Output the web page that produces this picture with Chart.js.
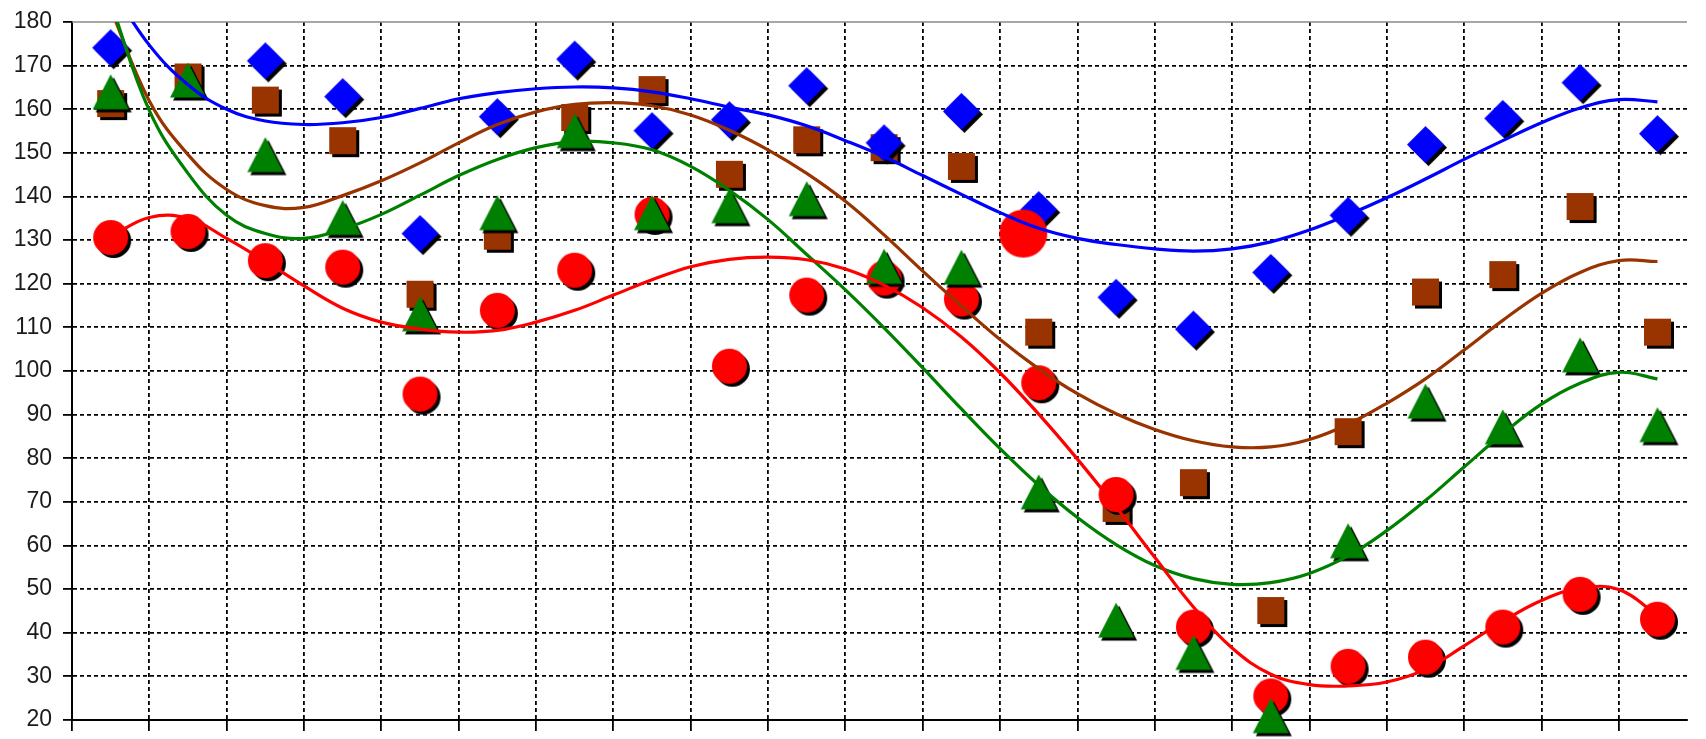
<!DOCTYPE html>
<html>
<head>
<meta charset="utf-8">
<script src="https://cdn.jsdelivr.net/npm/chart.js@4.4.0/dist/chart.umd.min.js"></script>
<style>
  html, body { margin: 0; padding: 0; background: #fff; overflow: hidden; }
  #wrap { width: 1706px; height: 739px; position: relative; }
</style>
</head>
<body>
<div id="wrap"><canvas id="c"></canvas></div>
<script>
// ---- data ----
const categories = [0, 1, 2, 3, 4, 5, 6, 7, 8, 9, 10, 11, 12, 13, 14, 15, 16, 17, 18, 19, 20];
const yTicks = [20, 30, 40, 50, 60, 70, 80, 90, 100, 110, 120, 130, 140, 150, 160, 170, 180];

const blueValues  = [174.1, null, 171.1, 162.9, 131.5, 158.3, 171.5, 155.1, 157.6, 165.4, 152.3, 159.5, 137.0, 116.9, 109.6, 122.6, 135.7, 151.9, 157.9, 166.1, 154.4];
const brownValues = [161.3, 167.4, 162.1, 152.8, 117.6, 130.9, 158.1, 164.5, 145.1, 153.0, 151.2, 146.9, 108.9, 68.5, 74.4, 45.1, 86.1, 118.1, 122.1, 137.7, 108.9];
const greenValues = [164.0, 166.7, 149.6, 135.2, 113.1, 136.3, 155.1, 136.3, 137.9, 139.5, 124.0, 123.8, 72.3, 42.9, 35.5, 21.0, 61.1, 93.1, 87.2, 103.7, 87.7];
const redValues   = [130.6, 132.0, 125.3, 123.8, 94.7, 113.9, 123.1, 135.9, 101.1, 117.4, 121.3, 116.5, 97.3, 71.7, 41.3, 25.5, 32.3, 34.4, 41.3, 48.8, 43.1];

const highlightX = [11.8];
const highlightValues = [131.5];

// trend lines at half-category steps
const trendX = [0, 0.5, 1, 1.5, 2, 2.5, 3, 3.5, 4, 4.5, 5, 5.5, 6, 6.5, 7, 7.5, 8, 8.5, 9, 9.5, 10,
                10.5, 11, 11.5, 12, 12.5, 13, 13.5, 14, 14.5, 15, 15.5, 16, 16.5, 17, 17.5, 18, 18.5, 19, 19.5, 20];
const blueTrend  = [188, 174.7, 165.6, 160.0, 157.3, 156.5, 156.9, 158.1, 160.2, 162.4, 163.8, 164.7, 165.1, 164.9, 164.0, 162.4, 160.5, 158.7, 156.2, 152.8, 149.1,
                    144.8, 140.5, 136.3, 132.7, 130.4, 129.0, 128.0, 127.5, 128.0, 129.6, 132.3, 135.8, 139.7, 144.0, 148.5, 152.8, 156.9, 160.3, 162.2, 161.7];
const brownTrend = [183, 161.9, 149.6, 141.6, 137.9, 137.5, 140.2, 143.6, 147.7, 152.3, 156.5, 159.4, 161.1, 161.5, 160.8, 158.7, 155.2, 150.7, 145.3, 138.9, 131.2,
                    122.9, 114.9, 107.2, 100.5, 94.8, 90.2, 86.6, 84.0, 82.6, 82.6, 84.3, 87.8, 92.6, 98.2, 104.8, 111.6, 117.8, 122.6, 125.3, 125.1];
const greenTrend = [184.5, 159.7, 145.3, 135.7, 131.5, 130.4, 132.5, 135.9, 140.3, 144.8, 148.5, 151.2, 152.6, 152.3, 150.7, 146.9, 141.4, 134.7, 126.7, 118.6, 109.9,
                    100.7, 91.3, 82.2, 73.8, 66.4, 60.2, 55.4, 52.4, 51.1, 51.5, 53.6, 57.6, 63.4, 70.3, 78.0, 85.6, 92.4, 97.2, 99.7, 98.2];
const redTrend   = [130.8, 135.2, 135.0, 130.4, 125.1, 119.5, 114.4, 111.2, 109.6, 108.9, 109.3, 111.2, 113.9, 117.4, 120.9, 123.9, 125.6, 126.1, 125.5, 123.4, 119.7,
                    114.5, 107.8, 99.6, 90.1, 79.8, 68.8, 57.3, 45.9, 36.5, 30.5, 28.1, 27.8, 28.7, 31.6, 37.0, 42.6, 47.4, 50.2, 49.9, 44.0];

// ---- helpers ----
function pts(xs, ys) {
  const out = [];
  xs.forEach((x, i) => { if (ys[i] !== null && ys[i] !== undefined) out.push({ x: x, y: ys[i] }); });
  return out;
}

function makeMarker(kind, color, w, h, shadow) {
  const off = shadow ? 3 : 0;
  const pad = 2;
  const S = Math.ceil(Math.max(w, h) + 2 * off + 2 * pad);
  const cv = document.createElement('canvas');
  cv.width = S; cv.height = S;
  const g = cv.getContext('2d');
  const c = S / 2;
  const path = (cx, cy) => {
    const hw = w / 2, hh = h / 2;
    g.beginPath();
    if (kind === 'diamond') {
      g.moveTo(cx, cy - hh); g.lineTo(cx + hw, cy); g.lineTo(cx, cy + hh); g.lineTo(cx - hw, cy);
    } else if (kind === 'square') {
      g.rect(cx - hw, cy - hh, w, h);
    } else if (kind === 'triangle') {
      g.moveTo(cx, cy - hh); g.lineTo(cx + hw, cy + hh); g.lineTo(cx - hw, cy + hh);
    } else {
      g.ellipse(cx, cy, hw, hh, 0, 0, Math.PI * 2);
    }
    g.closePath();
  };
  if (off) { path(c + off, c + off); g.fillStyle = '#000'; g.fill(); }
  path(c, c); g.fillStyle = color; g.fill();
  return cv;
}

const BLUE = '#0000FF', BROWN = '#993300', GREEN = '#008000', RED = '#FF0000';

const diamondImg  = makeMarker('diamond', BLUE, 37, 37, true);
const squareImg   = makeMarker('square', BROWN, 27, 27, true);
const triangleImg = makeMarker('triangle', GREEN, 36, 35, true);
const circleImg   = makeMarker('circle', RED, 35, 35, true);
const bigCircleImg = makeMarker('circle', RED, 48, 48, false);

function markerSet(label, data, img, order) {
  return {
    label, data, order,
    showLine: false,
    pointStyle: img,
    pointRadius: 18,
    pointHoverRadius: 18,
    clip: false
  };
}
function trendSet(label, data, color, order) {
  return {
    label, data, order,
    showLine: true,
    borderColor: color,
    backgroundColor: color,
    borderWidth: 3.2,
    pointRadius: 0,
    pointHoverRadius: 0,
    tension: 0.4,
    fill: false,
    clip: 0
  };
}

const framePlugin = {
  id: 'frame',
  beforeDraw(chart) {
    const { ctx, width, height } = chart;
    ctx.save(); ctx.fillStyle = '#fff'; ctx.fillRect(0, 0, width, height); ctx.restore();
  },
  beforeDatasetsDraw(chart) {
    const { ctx, chartArea: a } = chart;
    ctx.save();
    ctx.strokeStyle = '#8a8a8a';
    ctx.lineWidth = 1.5;
    ctx.beginPath(); ctx.moveTo(a.left, a.top); ctx.lineTo(a.right, a.top); ctx.stroke();
    ctx.restore();
  }
};

new Chart(document.getElementById('c'), {
  type: 'scatter',
  data: {
    datasets: [
      trendSet('Blue trend', pts(trendX, blueTrend), BLUE, 0),
      trendSet('Red trend', pts(trendX, redTrend), RED, 1),
      trendSet('Green trend', pts(trendX, greenTrend), GREEN, 2),
      trendSet('Brown trend', pts(trendX, brownTrend), BROWN, 3),
      markerSet('Highlight', pts(highlightX, highlightValues), bigCircleImg, 4),
      markerSet('Green', pts(categories, greenValues), triangleImg, 5),
      markerSet('Red', pts(categories, redValues), circleImg, 6),
      markerSet('Blue', pts(categories, blueValues), diamondImg, 7),
      markerSet('Brown', pts(categories, brownValues), squareImg, 8)
    ]
  },
  options: {
    responsive: true,
    maintainAspectRatio: false,
    animation: false,
    events: [],
    layout: { padding: { top: 22, left: 0, right: 0, bottom: 0 } },
    plugins: { legend: { display: false }, tooltip: { enabled: false }, title: { display: false } },
    scales: {
      x: {
        type: 'linear',
        min: -0.5,
        max: 20.382,
        afterBuildTicks: s => { s.ticks = categories.map(i => ({ value: i - 0.5 })); },
        afterFit: s => { s.height = 11; s.paddingLeft = 0; s.paddingRight = 0; },
        ticks: { display: false },
        grid: { color: '#000', lineWidth: 1.8, drawTicks: true, tickLength: 11, tickColor: '#000', tickWidth: 1.8 },
        border: { display: true, color: '#000', width: 2, dash: [4, 3] }
      },
      y: {
        type: 'linear',
        min: 20,
        max: 180,
        afterBuildTicks: s => { s.ticks = yTicks.map(v => ({ value: v })); },
        afterFit: s => { s.width = 72; s.paddingTop = 0; s.paddingBottom = 0; },
        ticks: {
          font: { family: "'Liberation Sans', Arial, sans-serif", size: 23 },
          color: '#1a1a1a',
          padding: 11
        },
        grid: {
          color: c => (c.tick && c.tick.value === 180) ? 'rgba(0,0,0,0)' : '#000',
          lineWidth: 1.8,
          drawTicks: true,
          tickLength: 9,
          tickColor: '#000',
          tickWidth: 1.8
        },
        border: { display: true, color: '#000', width: 2, dash: [4, 3] }
      }
    }
  },
  plugins: [framePlugin]
});
</script>
</body>
</html>
